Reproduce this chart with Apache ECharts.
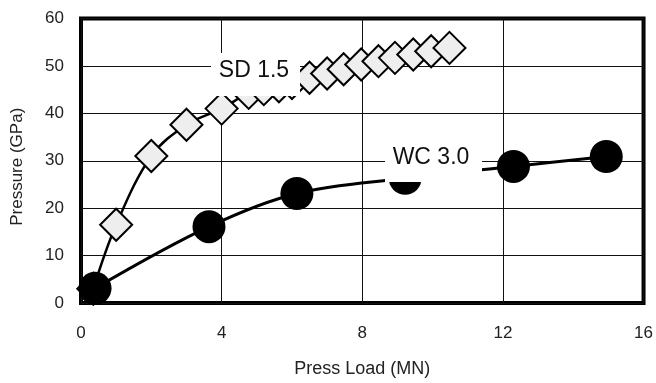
<!DOCTYPE html>
<html>
<head>
<meta charset="utf-8">
<script src="https://cdn.jsdelivr.net/npm/echarts@6/dist/echarts.min.js"></script>
<style>
html,body{margin:0;padding:0;background:#fff;}
#chart{width:656px;height:383px;}
</style>
</head>
<body>
<div id="chart"></div>
<script>
// Data
var sdLoad     = [0.35, 1.0, 2.0, 3.0, 4.0, 4.77, 5.2, 5.63, 6.0, 6.5, 7.0, 7.47, 7.97, 8.46, 8.93, 9.45, 9.96, 10.48];
var sdPressure = [3.0, 16.5, 31.0, 37.6, 41.0, 44.3, 45.1, 45.7, 46.4, 47.5, 48.4, 49.3, 50.3, 51.0, 51.7, 52.4, 53.1, 53.8];
var wcLoad     = [0.4, 3.64, 6.14, 9.22, 12.3, 14.94];
var wcPressure = [3.1, 16.1, 23.1, 26.3, 28.8, 30.9];
var xTicks = { min: 0, max: 16, interval: 4 };
var yTicks = { min: 0, max: 60, interval: 10 };
var sdName = 'SD 1.5';
var wcName = 'WC 3.0';
var xName = 'Press Load (MN)';
var yName = 'Pressure (GPa)';

function pairs(xs, ys){ return xs.map(function(x,i){ return [x, ys[i]]; }); }

var chart = echarts.init(document.getElementById('chart'), null, {renderer:'canvas'});
var font = 'Liberation Sans, Arial, sans-serif';
chart.setOption({
  animation: false,
  backgroundColor: '#fff',
  grid: { left: 81, right: 10, top: 18.5, bottom: 76.5, show: true, borderColor: '#000', borderWidth: 4, backgroundColor: 'transparent' },
  xAxis: {
    type: 'value', min: xTicks.min, max: xTicks.max, interval: xTicks.interval,
    name: xName, nameLocation: 'middle', nameGap: 57,
    nameTextStyle: { fontFamily: font, fontSize: 18, color: '#222' },
    axisLine: { show: false }, axisTick: { show: false },
    axisLabel: { fontFamily: font, fontSize: 17, color: '#222', margin: 22 },
    splitLine: { show: true, lineStyle: { color: '#111', width: 1 } }
  },
  yAxis: {
    type: 'value', min: yTicks.min, max: yTicks.max, interval: yTicks.interval,
    name: yName, nameLocation: 'middle', nameGap: 55,
    nameTextStyle: { fontFamily: font, fontSize: 17, color: '#222', padding: [0, 12, 0, 0] },
    axisLine: { show: false }, axisTick: { show: false },
    axisLabel: { fontFamily: font, fontSize: 17, color: '#222', margin: 17 },
    splitLine: { show: true, lineStyle: { color: '#111', width: 1 } }
  },
  series: [
    {
      name: sdName, type: 'line', data: pairs(sdLoad, sdPressure),
      smooth: 0.35, symbol: 'diamond', symbolSize: 32, showAllSymbol: true,
      lineStyle: { color: '#000', width: 2.5 },
      itemStyle: { color: '#eeeeee', borderColor: '#000', borderWidth: 2 },
      z: 3
    },
    {
      name: wcName, type: 'line', data: pairs(wcLoad, wcPressure),
      smooth: 0.35, symbol: 'circle', symbolSize: 33, showAllSymbol: true,
      lineStyle: { color: '#000', width: 3 },
      itemStyle: { color: '#000', borderColor: '#000', borderWidth: 0 },
      z: 4
    }
  ],
  graphic: [
    { type: 'rect', zlevel: 1, z: 100, shape: { x: 211, y: 53, width: 89, height: 43 }, style: { fill: '#fff' } },
    { type: 'text', zlevel: 1, z: 101, x: 254, y: 71, style: { text: sdName, fontFamily: font, fontSize: 23, fill: '#111', align: 'center', verticalAlign: 'middle' } },
    { type: 'rect', zlevel: 1, z: 100, shape: { x: 385, y: 145, width: 97, height: 37 }, style: { fill: '#fff' } },
    { type: 'text', zlevel: 1, z: 101, x: 431, y: 158, style: { text: wcName, fontFamily: font, fontSize: 23, fill: '#111', align: 'center', verticalAlign: 'middle' } }
  ]
});
</script>
</body>
</html>
